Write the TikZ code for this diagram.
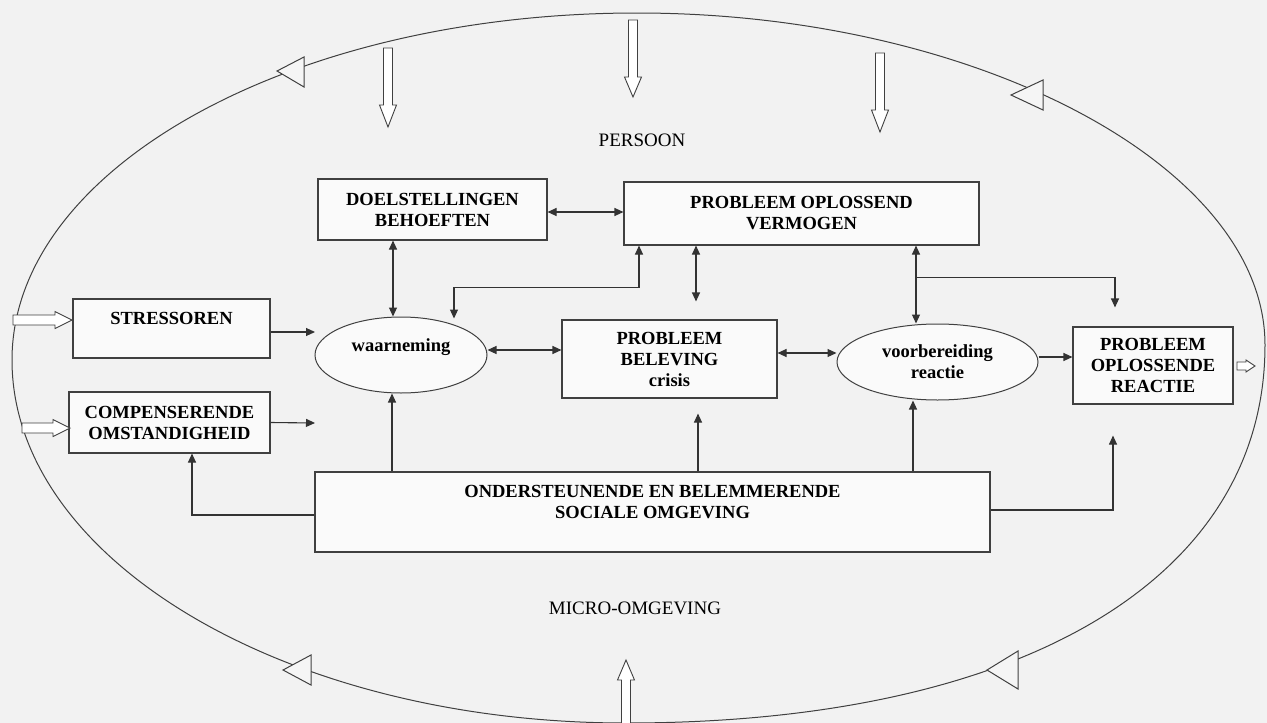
\documentclass[tikz,border=0pt]{standalone}
\usepackage{fontspec}
\setmainfont{Liberation Serif}
\usetikzlibrary{shapes.geometric,arrows.meta}
\begin{document}
\begin{tikzpicture}[x=1pt,y=-1pt,
  ln/.style={draw=black!80, line width=1.1pt},
  arr/.style={ln, -{Triangle[length=9pt,width=8pt]}},
  darr/.style={ln, {Triangle[length=9pt,width=8pt]}-{Triangle[length=9pt,width=8pt]}},
  bfont/.style={font=\bfseries\fontsize{18.5}{21}\selectfont},
  box/.style={draw=black!75, line width=1.1pt, fill=black!2, inner sep=0pt, align=center, bfont},
  oval/.style={ellipse, draw=black!75, line width=1pt, fill=black!2, inner sep=0pt, align=center, bfont},
  lbl/.style={bfont, inner sep=0pt},
  plain/.style={font=\fontsize{19}{22}\selectfont},
  hollow/.style={draw=black!75, line width=0.9pt, fill=white, line join=miter},
  tri/.style={draw=black!75, line width=1pt, fill=black!4, line join=miter},
  pics/harrow/.style n args={4}{code={
    \draw[hollow] (0,-#2) -- ({#1-#4},-#2) -- ({#1-#4},-#3) -- (#1,0)
      -- ({#1-#4},#3) -- ({#1-#4},#2) -- (0,#2) -- cycle;}}
]
\fill[black!5] (0,0) rectangle (1267,723);
\useasboundingbox (0,0) rectangle (1267,723);

% outer ellipse (micro-omgeving)
\draw[draw=black!75, line width=1pt]
  (637,13) .. controls (976,13) and (1265,166) .. (1265,345)
  .. controls (1265,579) and (1022,723) .. (626,723)
  .. controls (287,723) and (12,560) .. (12,360)
  .. controls (12,168) and (292,13) .. (637,13) -- cycle;

% open triangles on the ellipse
\draw[tri] (277,71) -- (304,57) -- (304,87) -- cycle;
\draw[tri] (1011,95) -- (1043,80) -- (1043,110) -- cycle;
\draw[tri] (283,670) -- (311,655) -- (311,685) -- cycle;
\draw[tri] (987,670) -- (1018,651) -- (1018,689) -- cycle;

% labels of the two regions
\node[plain] (persoon) at (642,140) {PERSOON};
\node[plain] (micro) at (635,608) {MICRO-OMGEVING};

% boxes
\node[box, minimum width=229pt, minimum height=61pt] (doel) at (432.5,209.5) {DOELSTELLINGEN\\BEHOEFTEN};
\node[box, minimum width=355pt, minimum height=63pt] (pov) at (801.5,213.5) {PROBLEEM OPLOSSEND\\VERMOGEN};
\node[box, minimum width=197pt, minimum height=59pt,
      label={[lbl,yshift=10pt]center:STRESSOREN}] (stress) at (171.5,328.5) {};
\node[box, minimum width=201pt, minimum height=61pt] (comp) at (169.5,422.5) {COMPENSERENDE\\OMSTANDIGHEID};
\node[box, minimum width=215pt, minimum height=78pt] (pbc) at (669.5,359) {PROBLEEM\\BELEVING\\crisis};
\node[box, minimum width=160pt, minimum height=77pt] (pbor) at (1153,365.5) {PROBLEEM\\OPLOSSENDE\\REACTIE};
\node[box, minimum width=675pt, minimum height=80pt,
      label={[lbl,yshift=10pt,align=center]center:ONDERSTEUNENDE EN BELEMMERENDE\\SOCIALE OMGEVING}] (onder) at (652.5,512) {};
\node[oval, minimum width=172pt, minimum height=76pt,
      label={[lbl,yshift=8pt]center:waarneming}] (waar) at (401,355) {};
\node[oval, minimum width=201pt, minimum height=76pt] (voor) at (937.5,362) {voorbereiding\\reactie};

\coordinate (sEnd) at (315,332);
\coordinate (cEnd) at (315,423);

% connectors
\draw[darr] ([yshift=-2.5pt]doel.east) -- ([yshift=1.5pt]pov.west);
\draw[darr] ([xshift=-39.5pt]doel.south) -- ([xshift=-8pt]waar.north);
\draw[darr] ([xshift=-162.5pt]pov.south) -- ++(0,42) -| ([xshift=53pt,yshift=-2pt]waar.north);
\draw[darr, shorten >=18pt] ([xshift=-105.5pt]pov.south) -- ([xshift=26.5pt]pbc.north);
\draw[darr] ([xshift=114.5pt]pov.south) -- ([xshift=-21.5pt]voor.north);
\draw[arr, shorten >=19pt] ([xshift=114.5pt,yshift=-32pt]pov.south) -| ([xshift=-38pt]pbor.north);
\draw[arr] ([yshift=-3.5pt]stress.east) -- (sEnd);
\draw[darr] ([yshift=5pt]waar.east) -- ([yshift=9pt]pbc.west);
\draw[darr] ([yshift=6pt]pbc.east) -- ([yshift=9pt]voor.west);
\draw[arr] ([yshift=5pt]voor.east) -- ([yshift=8.5pt]pbor.west);
\draw[arr] (comp.east) -- (cEnd);
\draw[arr] ([xshift=-260.5pt]onder.north) -- ([xshift=-9pt]waar.south);
\draw[arr] ([yshift=-3pt]onder.west) -| ([xshift=22.5pt]comp.south);
\draw[arr, shorten >=15pt] ([xshift=45.5pt]onder.north) -- ([xshift=28.5pt]pbc.south);
\draw[arr] ([xshift=260.5pt]onder.north) -- ([xshift=-24.5pt]voor.south);
\draw[arr, shorten >=31pt] ([yshift=2pt]onder.east) -| ([xshift=-40pt]pbor.south);

% hollow (outline) arrows from outside
\pic[rotate=-90] at (388,48) {harrow={79}{4.5}{8.5}{22}};
\pic[rotate=-90] at (633,20) {harrow={77}{4.5}{8.5}{20}};
\pic[rotate=-90] at (880,53) {harrow={79}{4.5}{8.5}{22}};
\pic[rotate=90] at (626,727) {harrow={67}{4.5}{8.5}{20}};
\pic at (13,320) {harrow={59}{5}{8.5}{17}};
\pic at (22,428) {harrow={48}{5}{8.5}{17}};
\pic at (1237,366) {harrow={18}{4}{6}{9}};
\end{tikzpicture}
\end{document}
